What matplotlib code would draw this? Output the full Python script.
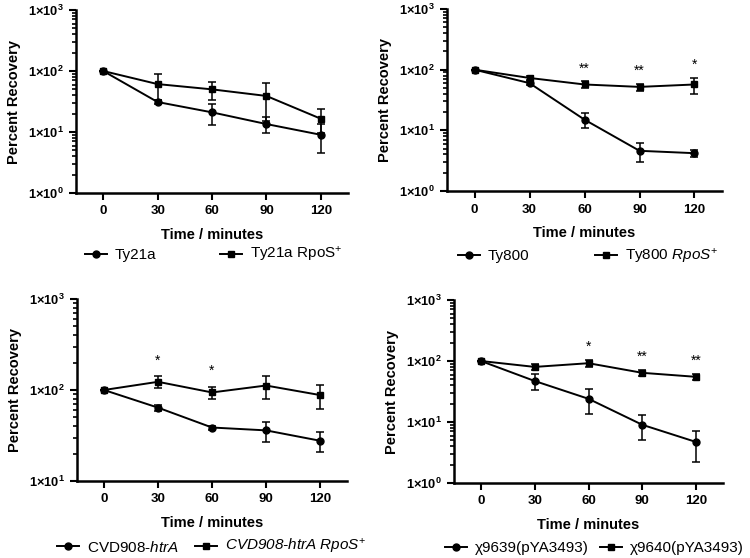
import matplotlib.pyplot as plt
from matplotlib.ticker import FixedLocator, LogLocator, NullFormatter
from matplotlib.lines import Line2D
import numpy as np

plt.rcParams['font.family'] = ['Liberation Sans', 'DejaVu Sans']
plt.rcParams['mathtext.fontset'] = 'custom'
plt.rcParams['mathtext.rm'] = 'Liberation Sans'
plt.rcParams['mathtext.it'] = 'Liberation Sans:italic'
plt.rcParams['mathtext.bf'] = 'Liberation Sans:bold'

# data
time = [0, 30, 60, 90, 120]

ty21a = [100, 31, 21, 13.5, 9.0]
ty21a_err = [0, 2, 8, 4, 4.5]
ty21a_rpos = [100, 61, 50, 39, 16.5]
ty21a_rpos_err = [0, 27, 17, 24, 7]

ty800 = [100, 60, 15, 4.6, 4.2]
ty800_err = [0, 4, 4, 1.65, 0.6]
ty800_rpos = [100, 73, 57, 52, 57]
ty800_rpos_err = [0, 6, 7, 7, 17]
ty800_stars = ['', '', '**', '**', '*']

cvd = [100, 64, 38.7, 36, 27.7]
cvd_err = [0, 5, 2, 9, 7]
cvd_rpos = [100, 123, 94, 112, 88]
cvd_rpos_err = [0, 18, 15, 32, 26]
cvd_stars = ['', '*', '*', '', '']

chi39 = [100, 47, 24, 9, 4.7]
chi39_err = [0, 14, 10.5, 3.9, 2.45]
chi40 = [100, 80, 92, 64, 55]
chi40_err = [0, 8, 12, 7, 6]
chi_stars = ['', '', '*', '**', '**']

# axes boxes in pixels (left, top, right, bottom); legend: x of each handle, y centre
panels = [
    dict(box=(76, 10, 348, 193), c=ty21a, ce=ty21a_err, s=ty21a_rpos, se=ty21a_rpos_err,
         labels=['Ty21a', 'Ty21a RpoS$^{+}$'], ylim=(1, 1000), stars=None, leg=((85, 220), 255)),
    dict(box=(447, 9, 722, 191), c=ty800, ce=ty800_err, s=ty800_rpos, se=ty800_rpos_err,
         labels=['Ty800', 'Ty800 $\\mathit{RpoS}^{+}$'], ylim=(1, 1000), stars=ty800_stars,
         leg=((458, 595), 256)),
    dict(box=(77, 299, 347, 481), c=cvd, ce=cvd_err, s=cvd_rpos, se=cvd_rpos_err,
         labels=['CVD908-$\\mathit{htrA}$', 'CVD908-htrA RpoS$^{+}$'], ylim=(10, 1000),
         stars=cvd_stars, leg=((57, 195), 547)),
    dict(box=(454, 300, 723, 483), c=chi39, ce=chi39_err, s=chi40, se=chi40_err,
         labels=['χ9639(pYA3493)', 'χ9640(pYA3493)'], ylim=(1, 1000), stars=chi_stars,
         leg=((445, 600), 548)),
]

W, H = 750, 558
fig = plt.figure(figsize=(W / 100, H / 100), dpi=100)

for p in panels:
    l, t, r, b = p['box']
    ax = fig.add_axes([l / W, 1 - b / H, (r - l) / W, (b - t) / H])
    ax.errorbar(time, p['c'], yerr=p['ce'], color='black', marker='o', markersize=5, lw=1.4,
                capsize=3, capthick=1.1, elinewidth=1.1)
    ax.errorbar(time, p['s'], yerr=p['se'], color='black', marker='s', markersize=5, lw=1.4,
                capsize=3, capthick=1.1, elinewidth=1.1)
    ax.set_yscale('log')
    ax.set_ylim(*p['ylim'])
    ax.set_xlim(-15, 135)
    ax.set_xticks(time)
    ax.set_xticklabels([str(x) for x in time], fontweight='bold', fontsize=9.5)
    lo, hi = int(np.log10(p['ylim'][0])), int(np.log10(p['ylim'][1]))
    ax.yaxis.set_major_locator(FixedLocator([10.0 ** k for k in range(lo, hi + 1)]))
    ax.set_yticklabels(['1×10$^{\\mathbf{%d}}$' % k for k in range(lo, hi + 1)], fontweight='bold', fontsize=9.3)
    ax.yaxis.set_minor_locator(LogLocator(base=10, subs=np.arange(2, 10)))
    ax.yaxis.set_minor_formatter(NullFormatter())
    for side in ['top', 'right']:
        ax.spines[side].set_visible(False)
    for side in ['left', 'bottom']:
        ax.spines[side].set_linewidth(1.8)
    ax.tick_params(which='major', length=5, width=1.5)
    ax.tick_params(axis='x', pad=4)
    ax.tick_params(which='minor', length=3, width=1.2)
    ax.set_xlabel('Time / minutes', fontweight='bold', fontsize=10.5)
    ax.xaxis.set_label_coords(0.5, -35 / (b - t))
    ax.set_ylabel('Percent Recovery', fontweight='bold', fontsize=10.5)
    ax.yaxis.set_label_coords(-55 / (r - l), 0.5)

    if p['stars']:
        for i, st in enumerate(p['stars']):
            if st:
                top = p['s'][i] + p['se'][i]
                ax.text(time[i], top * 1.25, st, ha='center', va='bottom', fontsize=10)

    # one legend per entry so each handle sits where the reference has it
    markers = ['o', 's']
    (x1, x2), ly = p['leg']
    for k, lx in enumerate((x1, x2)):
        h = Line2D([], [], color='black', marker=markers[k], markersize=5, lw=1.4)
        leg = fig.legend([h], [p['labels'][k]], loc='center left', bbox_to_anchor=(lx / W, 1 - ly / H),
                         frameon=False, fontsize=11, handlelength=1.45, handletextpad=0.5,
                         borderpad=0, borderaxespad=0)
        if p['labels'][k].startswith('CVD908-htrA '):
            leg.get_texts()[0].set_fontstyle('italic')

fig.savefig('out.png', dpi=100)
